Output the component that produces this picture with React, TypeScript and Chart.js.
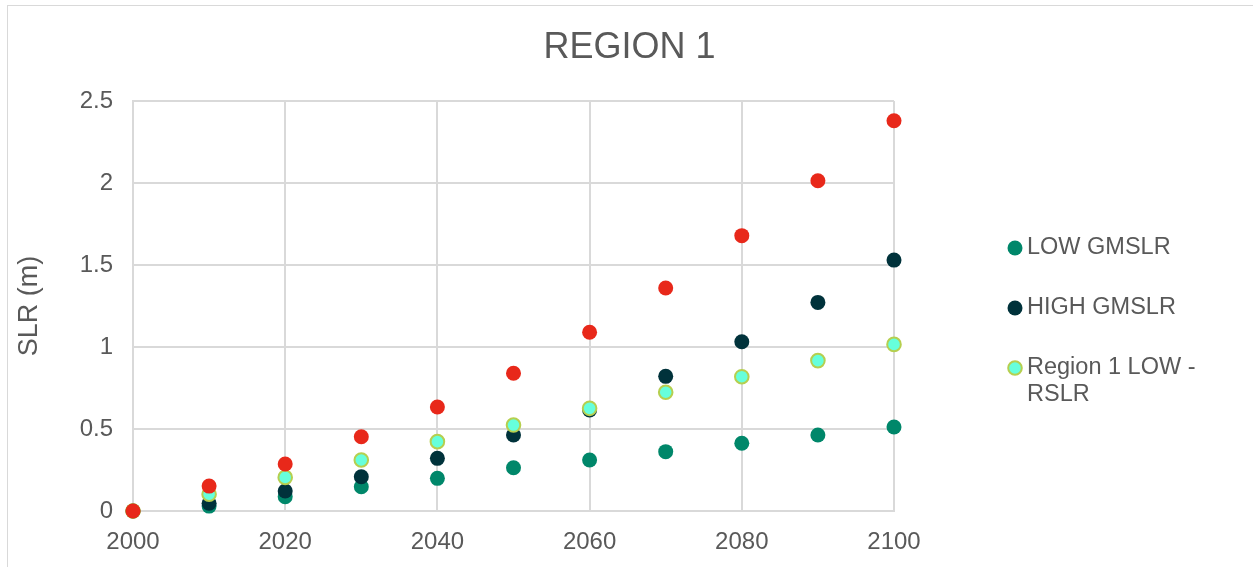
import React, { useEffect, useRef } from "react";
import { Chart, registerables } from "chart.js";

Chart.register(...registerables);

const TITLE = "REGION 1";
const Y_TITLE = "SLR (m)";
const YEARS = [2000, 2010, 2020, 2030, 2040, 2050, 2060, 2070, 2080, 2090, 2100];
const LOW_GMSLR = [0, 0.03, 0.087, 0.148, 0.199, 0.264, 0.311, 0.362, 0.413, 0.463, 0.512];
const HIGH_GMSLR = [0, 0.047, 0.122, 0.209, 0.321, 0.463, 0.616, 0.821, 1.032, 1.272, 1.53];
const REGION1_LOW_RSLR = [0, 0.102, 0.205, 0.311, 0.423, 0.524, 0.626, 0.724, 0.819, 0.917, 1.016];
const REGION1_HIGH_RSLR = [0, 0.152, 0.287, 0.453, 0.634, 0.84, 1.09, 1.36, 1.679, 2.014, 2.38];
const X_TICKS = [2000, 2020, 2040, 2060, 2080, 2100];
const Y_TICKS = [0, 0.5, 1, 1.5, 2, 2.5];

const FONT = '"Liberation Sans", Arial, Helvetica, sans-serif';
const TEXT = "#595959";
const GRID = "#d9d9d9";

const toPoints = (ys: number[]) => YEARS.map((x, i) => ({ x, y: ys[i] }));

const canvasTitle = {
  id: "canvasTitle",
  afterDraw(chart: any) {
    const ctx = chart.ctx as CanvasRenderingContext2D;
    ctx.save();
    ctx.font = `36px ${FONT}`;
    ctx.fillStyle = TEXT;
    ctx.textAlign = "center";
    ctx.textBaseline = "middle";
    ctx.fillText(TITLE, chart.width / 2 + 3, 48);
    ctx.restore();
  },
};

const sideLegend = {
  id: "sideLegend",
  afterDraw(chart: any) {
    const ctx = chart.ctx as CanvasRenderingContext2D;
    const area = chart.chartArea;
    ctx.save();
    ctx.font = `23.5px ${FONT}`;
    ctx.textBaseline = "middle";
    const markerX = area.right + 121;
    const textX = area.right + 133;
    const maxW = 200;
    let y = area.top + 147;
    chart.data.datasets.forEach((ds: any) => {
      if (ds.inLegend === false) return;
      const words = String(ds.label).split(" ");
      const lines: string[] = [];
      let cur = "";
      words.forEach((w) => {
        const t = cur ? cur + " " + w : w;
        if (ctx.measureText(t).width > maxW && cur) {
          lines.push(cur);
          cur = w;
        } else cur = t;
      });
      if (cur) lines.push(cur);
      ctx.beginPath();
      const bw = ds.borderWidth || 0;
      ctx.arc(markerX, y, ds.pointRadius, 0, Math.PI * 2);
      ctx.fillStyle = ds.backgroundColor;
      ctx.fill();
      if (bw > 0) {
        ctx.lineWidth = bw;
        ctx.strokeStyle = ds.borderColor;
        ctx.stroke();
      }
      ctx.fillStyle = TEXT;
      lines.forEach((l, i) => ctx.fillText(l, textX, y + i * 27));
      y += 60 + (lines.length - 1) * 27;
    });
    ctx.restore();
  },
};

export default function App() {
  const ref = useRef<HTMLCanvasElement>(null);

  useEffect(() => {
    if (!ref.current) return;
    const chart = new Chart(ref.current, {
      type: "scatter",
      data: {
        datasets: [
          {
            label: "LOW GMSLR",
            data: toPoints(LOW_GMSLR),
            backgroundColor: "#00876a",
            borderColor: "#00876a",
            borderWidth: 0,
            pointRadius: 7.5,
            order: 3,
            clip: false,
          },
          {
            label: "HIGH GMSLR",
            data: toPoints(HIGH_GMSLR),
            backgroundColor: "#00323b",
            borderColor: "#00323b",
            borderWidth: 0,
            pointRadius: 7.5,
            order: 2,
            clip: false,
          },
          {
            label: "Region 1 LOW - RSLR",
            data: toPoints(REGION1_LOW_RSLR),
            backgroundColor: "#66ffdc",
            borderColor: "#b6cf4f",
            borderWidth: 2,
            pointRadius: 6.8,
            order: 1,
            clip: false,
          },
          {
            label: "Region 1 HIGH - RSLR",
            data: toPoints(REGION1_HIGH_RSLR),
            backgroundColor: "#e8281a",
            borderColor: "#e8281a",
            borderWidth: 0,
            pointRadius: 7.5,
            order: 0,
            clip: false,
            inLegend: false,
          } as any,
        ],
      },
      options: {
        animation: false,
        responsive: false,
        maintainAspectRatio: false,
        layout: { padding: { left: 0, right: 359, top: 101, bottom: 0 } },
        plugins: {
          legend: { display: false },
          tooltip: { enabled: false },
          title: { display: false },
        },
        scales: {
          x: {
            type: "linear",
            min: 2000,
            max: 2100,
            afterFit: (s: any) => {
              s.height = 56;
            },
            afterBuildTicks: (s: any) => {
              s.ticks = X_TICKS.map((v) => ({ value: v }));
            },
            ticks: {
              color: TEXT,
              font: { family: FONT, size: 24 },
              padding: 17,
              callback: (v: any) => String(v),
            },
            grid: { color: GRID, lineWidth: 2, drawTicks: false },
            border: { color: GRID, width: 2 },
          },
          y: {
            type: "linear",
            min: 0,
            max: 2.5,
            afterFit: (s: any) => {
              s.width = 133;
            },
            afterBuildTicks: (s: any) => {
              s.ticks = Y_TICKS.map((v) => ({ value: v }));
            },
            ticks: {
              color: TEXT,
              font: { family: FONT, size: 24 },
              padding: 20,
              callback: (v: any) => String(v),
            },
            title: {
              display: true,
              text: Y_TITLE,
              color: TEXT,
              font: { family: FONT, size: 27 },
              padding: { top: 13, bottom: 0 },
            },
            grid: { color: GRID, lineWidth: 2, drawTicks: false },
            border: { color: GRID, width: 2 },
          },
        },
      },
      plugins: [canvasTitle, sideLegend],
    });
    return () => chart.destroy();
  }, []);

  return (
    <div style={{ position: "absolute", left: 0, top: 0, width: 1253, height: 567, background: "#fff", overflow: "hidden" }}>
      <div
        style={{
          position: "absolute",
          left: 7,
          top: 5,
          right: -2,
          bottom: -2,
          borderLeft: `1px solid ${GRID}`,
          borderTop: `1px solid ${GRID}`,
        }}
      />
      <canvas ref={ref} width={1253} height={567} style={{ position: "absolute", left: 0, top: 0 }} />
    </div>
  );
}
